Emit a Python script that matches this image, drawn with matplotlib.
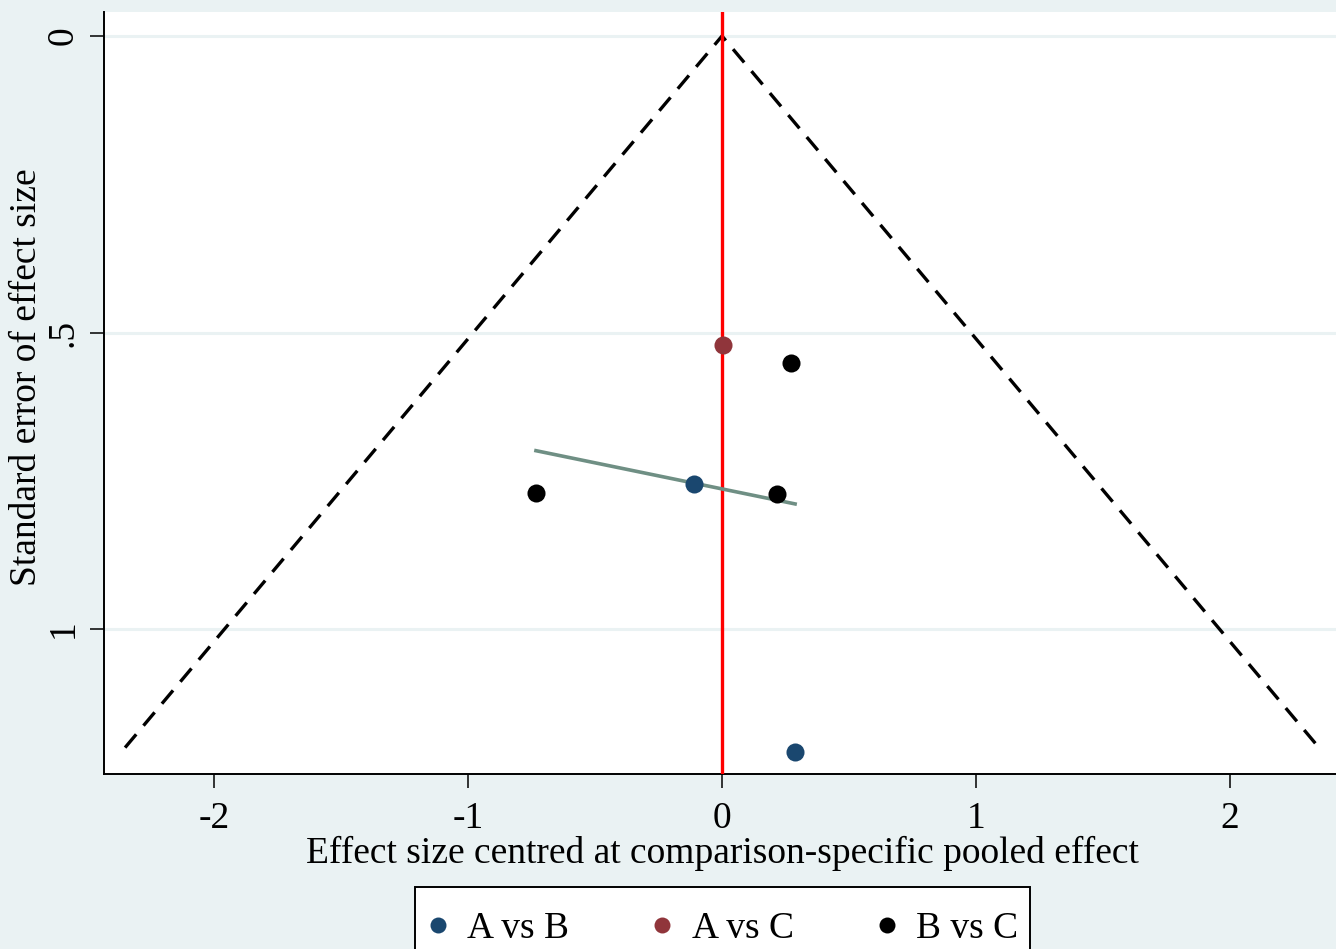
import numpy as np
import matplotlib
matplotlib.use("Agg")
import matplotlib.pyplot as plt
from matplotlib.lines import Line2D
from matplotlib.patches import Rectangle

# ---- data ----
groups = ["A vs B", "A vs C", "B vs C"]
colors = ["#1a476f", "#90353b", "#000000"]
effect_AB = [-0.110, 0.288]
se_AB = [0.755, 1.207]
effect_AC = [0.004]
se_AC = [0.521]
effect_BC = [0.272, -0.733, 0.217]
se_BC = [0.551, 0.771, 0.772]
se_max = 1.2
xticks = [-2, -1, 0, 1, 2]
yticks = [0, 0.5, 1]
yticklabels = ["0", ".5", "1"]

plt.rcParams['font.family'] = ['Liberation Serif', 'DejaVu Serif']

W, H = 1336, 949
fig = plt.figure(figsize=(W / 100, H / 100), dpi=100)
bg = "#eaf2f3"
fig.patch.set_facecolor(bg)

left, right, top, bottom = 104, 1340, 12, 774
ax = fig.add_axes([left / W, 1 - bottom / H, (right - left) / W, (bottom - top) / H])
ax.set_facecolor("white")
ax.set_xlim(-2.435, 2.435)
ax.set_ylim(1.2445, -0.0405)

# gridlines
for yt in yticks:
    ax.axhline(yt, color=bg, lw=2.2, zorder=0)

# funnel
se_line = np.array([se_max, 0.0, se_max])
x_line = np.array([-1.96 * se_max, 0.0, 1.96 * se_max])
ax.plot(x_line, se_line, color="black", lw=2.4, dashes=(5.2, 3.4), zorder=2)

# null line
ax.axvline(0, color="#ff0000", lw=2.4, zorder=3)

# regression line of SE on effect
all_x = np.array(effect_AB + effect_AC + effect_BC)
all_y = np.array(se_AB + se_AC + se_BC)
b, a = np.polyfit(all_x, all_y, 1)
xr = np.array([all_x.min(), all_x.max()])
ax.plot(xr, a + b * xr, color="#6f8f84", lw=2.6, zorder=4)

# points
for xs, ys, c in zip([effect_AB, effect_AC, effect_BC], [se_AB, se_AC, se_BC], colors):
    ax.plot(xs, ys, "o", color=c, ms=13, mec="none", zorder=5)

# axes styling
for s in ["top", "right"]:
    ax.spines[s].set_visible(False)
for s in ["left", "bottom"]:
    ax.spines[s].set_linewidth(1.4)
    ax.spines[s].set_color("black")
ax.set_xticks(xticks)
ax.set_xticklabels([str(t) for t in xticks])
ax.set_yticks(yticks)
ax.set_yticklabels(yticklabels, rotation=90, va="center")
ax.tick_params(axis="both", direction="out", length=10, width=1.1, labelsize=27)
ax.tick_params(axis="x", pad=10)
ax.tick_params(axis="y", pad=7)

ax.set_xlabel("Effect size centred at comparison-specific pooled effect", fontsize=27, labelpad=0)
ax.xaxis.set_label_coords(0.5, (bottom - 853) / (bottom - top))
ax.xaxis.label.set_va("center")
ax.set_ylabel("Standard error of effect size", fontsize=27)
ax.yaxis.set_label_coords((27 - left) / (right - left), (bottom - 377) / (bottom - top))
ax.yaxis.label.set_va("center")

# legend box (extends past the bottom of the figure, as in the reference)
frame = Rectangle((415 / W, 1 - 980 / H), (1030 - 415) / W, (980 - 887) / H,
                  transform=fig.transFigure, facecolor="white", edgecolor="black",
                  lw=1.4, zorder=1)
fig.add_artist(frame)

handles = [Line2D([], [], marker="o", ls="none", color=c, ms=11.5, mec="none") for c in colors]
leg = fig.legend(handles, groups, loc="center left", bbox_to_anchor=(432 / W, 1 - 929 / H),
                 ncol=3, fontsize=27, frameon=False, handletextpad=0.64,
                 columnspacing=2.33, borderpad=0, handlelength=0.3, borderaxespad=0)
leg.set_zorder(2)

fig.savefig("out.png", dpi=100, facecolor=bg)
